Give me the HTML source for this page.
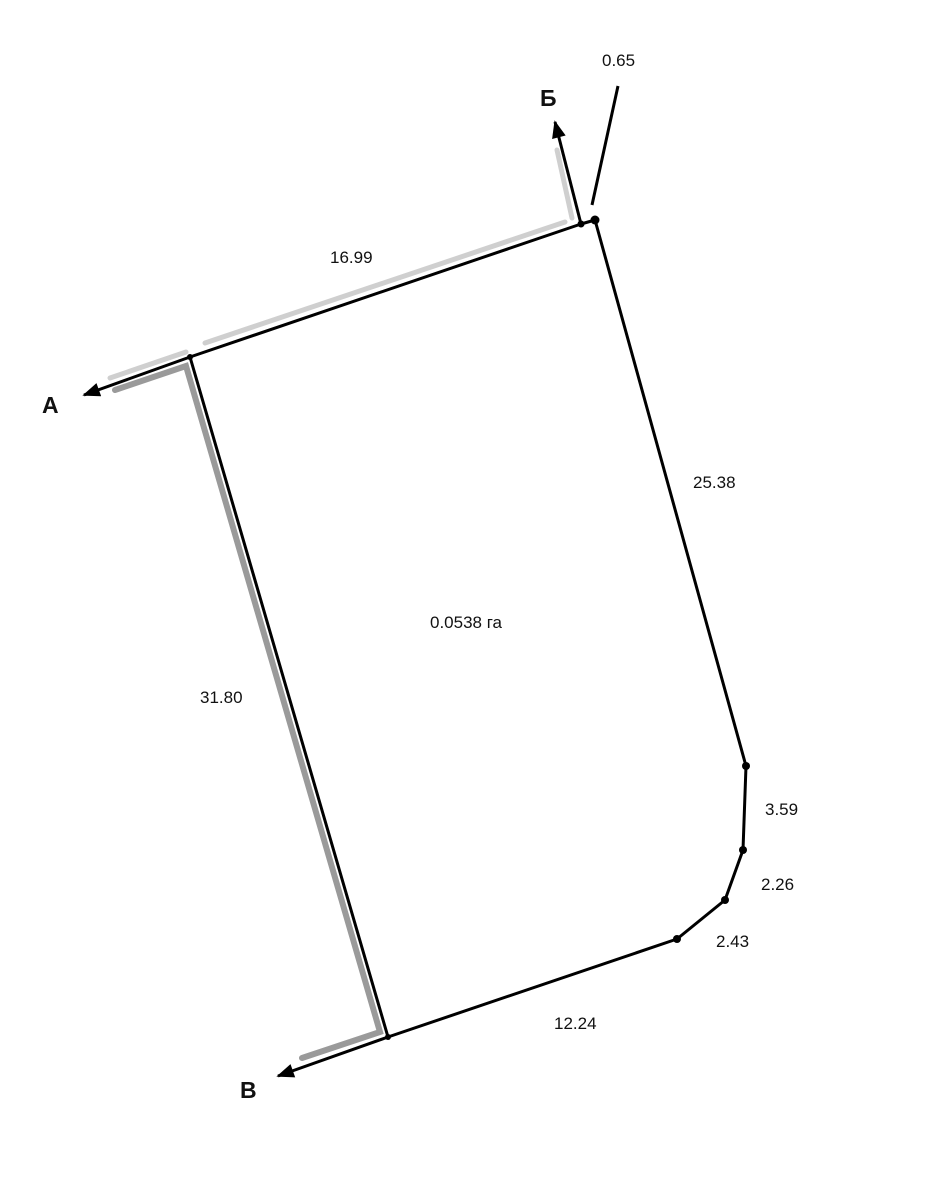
<!DOCTYPE html>
<html><head><meta charset="utf-8"><style>
html,body{margin:0;padding:0;background:#fff;}
svg{display:block;}
text{font-family:"Liberation Sans",sans-serif;fill:#111;}
</style></head><body>
<svg width="925" height="1200" viewBox="0 0 925 1200" xmlns="http://www.w3.org/2000/svg">
<defs>
<marker id="ar2" viewBox="0 0 10 8" markerWidth="20" markerHeight="14" refX="9" refY="4" orient="auto" markerUnits="userSpaceOnUse">
<path d="M0,0 L10,4 L0,8 Z" fill="#000"/>
</marker>
</defs>
<!-- gray hatch lines -->
<g stroke="#9a9a9a" stroke-width="6" fill="none" stroke-linecap="round">
<polyline points="115,390 186,366 380,1032 302,1058"/>
</g>
<g stroke="#cfcfcf" stroke-width="5" fill="none" stroke-linecap="round">
<polyline points="110,378 186,352"/>
<polyline points="205,343 565,222"/>
<polyline points="557,150 572,218"/>
</g>
<!-- parcel outline -->
<polygon points="190,357 581,224 595,220 746,766 743,850 725,900 677,939 388,1037" fill="none" stroke="#000" stroke-width="3" stroke-linejoin="round"/>
<!-- arrows -->
<g stroke="#000" stroke-width="3">
<line x1="190" y1="357" x2="84" y2="395" marker-end="url(#ar2)"/>
<line x1="581" y1="224" x2="555" y2="122" marker-end="url(#ar2)"/>
<line x1="388" y1="1037" x2="278" y2="1076" marker-end="url(#ar2)"/>
<line x1="618" y1="86" x2="592" y2="205"/>
</g>
<!-- vertices -->
<g fill="#000">
<circle cx="581" cy="224" r="3.5"/>
<circle cx="595" cy="220" r="4.5"/>
<circle cx="190" cy="357" r="3"/>
<circle cx="746" cy="766" r="4"/>
<circle cx="743" cy="850" r="4"/>
<circle cx="725" cy="900" r="4"/>
<circle cx="677" cy="939" r="4"/>
<circle cx="388" cy="1037" r="3"/>
</g>
<!-- labels -->
<text x="602" y="66" font-size="17">0.65</text>
<text x="540" y="106" font-size="23" font-weight="bold">Б</text>
<text x="330" y="263" font-size="17">16.99</text>
<text x="42" y="413" font-size="23" font-weight="bold">A</text>
<text x="693" y="488" font-size="17">25.38</text>
<text x="430" y="628" font-size="17">0.0538 га</text>
<text x="200" y="703" font-size="17">31.80</text>
<text x="765" y="815" font-size="17">3.59</text>
<text x="761" y="890" font-size="17">2.26</text>
<text x="716" y="947" font-size="17">2.43</text>
<text x="554" y="1029" font-size="17">12.24</text>
<text x="240" y="1098" font-size="23" font-weight="bold">В</text>
</svg>
</body></html>
